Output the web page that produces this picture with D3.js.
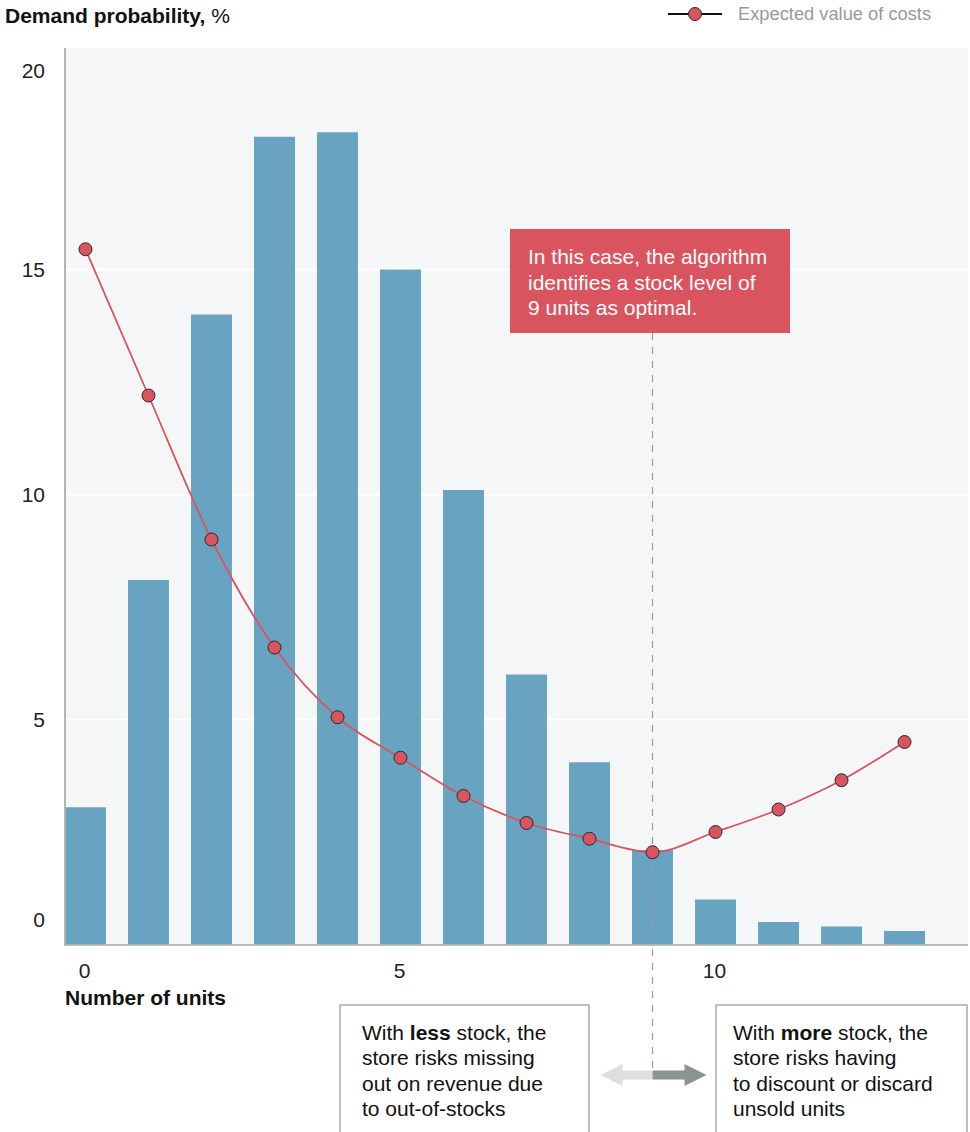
<!DOCTYPE html>
<html>
<head>
<meta charset="utf-8">
<script src="https://cdn.jsdelivr.net/npm/d3@7"></script>
<style>
  html, body { margin: 0; padding: 0; background: #ffffff; }
  svg { display: block; font-family: "Liberation Sans", Arial, Helvetica, sans-serif; }
</style>
</head>
<body>
<svg id="chart" width="970" height="1132"></svg>
<script>
// Units of stock held
const units = [0, 1, 2, 3, 4, 5, 6, 7, 8, 9, 10, 11, 12, 13];
// Probability of each demand level, %
const demandProbability = [3.05, 8.1, 14, 17.95, 18.05, 15, 10.1, 6, 4.05, 2.1, 1, 0.5, 0.4, 0.3];
// Expected value of costs for each stock level
const expectedCost = [15.45, 12.2, 9.0, 6.6, 5.05, 4.15, 3.3, 2.7, 2.35, 2.05, 2.5, 3.0, 3.65, 4.5];
const yTicks = [0, 5, 10, 15, 20];
const xTicks = [0, 5, 10];
const optimalUnits = 9;

const FONT = 21;
const svg = d3.select("#chart");

const plot = { left: 65, right: 968, top: 48, bottom: 945 };

const x = d3.scaleBand()
  .domain(units)
  .range([plot.left, 925])
  .paddingInner(0.35)
  .paddingOuter(0);

const y = d3.scaleLinear()
  .domain([0, 20])
  .range([944.5, 44.5]);

const cx = d => x(d) + x.bandwidth() / 2;

// Plot background
svg.append("rect")
  .attr("x", plot.left).attr("y", plot.top)
  .attr("width", plot.right - plot.left).attr("height", plot.bottom - plot.top)
  .attr("fill", "#f5f6f8");

// Horizontal gridlines
svg.append("g")
  .selectAll("line")
  .data(yTicks.filter(t => t > 0 && t < 20))
  .join("line")
  .attr("x1", plot.left).attr("x2", plot.right)
  .attr("y1", d => y(d)).attr("y2", d => y(d))
  .attr("stroke", "#ffffff").attr("stroke-width", 2);

// Y axis labels
const yAxis = svg.append("g")
  .attr("transform", `translate(${plot.left},0)`)
  .call(d3.axisLeft(y).tickValues(yTicks).tickSize(0).tickPadding(20));
yAxis.select(".domain").remove();
yAxis.selectAll("text")
  .attr("font-size", FONT)
  .attr("fill", "#222")
  .attr("font-family", "'Liberation Sans', Arial, sans-serif")
  .attr("dy", d => d === 20 ? "1.55em" : d === 0 ? "-0.85em" : "0.32em");

// Bars
svg.append("g")
  .selectAll("rect")
  .data(units)
  .join("rect")
  .attr("x", d => x(d))
  .attr("width", x.bandwidth())
  .attr("y", (d, i) => y(demandProbability[i]))
  .attr("height", (d, i) => y(0) - y(demandProbability[i]))
  .attr("fill", "#68a4c2");

// Left axis line
svg.append("line")
  .attr("x1", plot.left).attr("x2", plot.left)
  .attr("y1", plot.top).attr("y2", plot.bottom)
  .attr("stroke", "#b4b4b4").attr("stroke-width", 2);

// Bottom axis line
svg.append("line")
  .attr("x1", plot.left - 1).attr("x2", plot.right)
  .attr("y1", plot.bottom).attr("y2", plot.bottom)
  .attr("stroke", "#a8a8a8").attr("stroke-width", 1.5);

// X axis labels
const xAxis = svg.append("g")
  .attr("transform", `translate(-1,${plot.bottom})`)
  .call(d3.axisBottom(x).tickValues(xTicks).tickSize(0).tickPadding(18));
xAxis.select(".domain").remove();
xAxis.selectAll("text")
  .attr("font-size", FONT)
  .attr("fill", "#222")
  .attr("font-family", "'Liberation Sans', Arial, sans-serif");

// Axis titles
svg.append("text")
  .attr("x", plot.left).attr("y", 1005)
  .attr("font-size", FONT).attr("font-weight", "bold").attr("fill", "#111")
  .text("Number of units");

const title = svg.append("text")
  .attr("x", 5).attr("y", 23)
  .attr("font-size", FONT).attr("fill", "#111");
title.append("tspan").attr("font-weight", "bold").text("Demand probability,");
title.append("tspan").text(" %");

// Dashed marker at the optimal stock level
svg.append("line")
  .attr("x1", cx(optimalUnits)).attr("x2", cx(optimalUnits))
  .attr("y1", 333).attr("y2", 1075)
  .attr("stroke", "#9a9a9a").attr("stroke-width", 1.2)
  .attr("stroke-dasharray", "7,7");

// Expected cost curve
const line = d3.line()
  .x((d, i) => cx(units[i]))
  .y(d => y(d))
  .curve(d3.curveMonotoneX);

svg.append("path")
  .datum(expectedCost)
  .attr("d", line)
  .attr("fill", "none")
  .attr("stroke", "#d9545e")
  .attr("stroke-width", 1.8);

svg.append("g")
  .selectAll("circle")
  .data(expectedCost)
  .join("circle")
  .attr("cx", (d, i) => cx(units[i]))
  .attr("cy", d => y(d))
  .attr("r", 6.5)
  .attr("fill", "#d9545e")
  .attr("stroke", "#2a2a2a")
  .attr("stroke-width", 1);

// Callout box
svg.append("rect")
  .attr("x", 510).attr("y", 229).attr("width", 280).attr("height", 104)
  .attr("fill", "#d9545e");
const callout = svg.append("text")
  .attr("x", 528).attr("font-size", FONT).attr("fill", "#ffffff");
["In this case, the algorithm", "identifies a stock level of", "9 units as optimal."]
  .forEach((t, i) => callout.append("tspan").attr("x", 528).attr("y", 264 + i * 25.5).text(t));

// Legend
svg.append("line")
  .attr("x1", 668).attr("x2", 722).attr("y1", 14).attr("y2", 14)
  .attr("stroke", "#111").attr("stroke-width", 2);
svg.append("circle")
  .attr("cx", 695).attr("cy", 14).attr("r", 6.5)
  .attr("fill", "#d9545e").attr("stroke", "#2a2a2a").attr("stroke-width", 1);
svg.append("text")
  .attr("x", 738).attr("y", 20)
  .attr("font-size", 18.3).attr("fill", "#9a9a9a")
  .text("Expected value of costs");

// Double arrow under the marker
const ax = cx(optimalUnits), ay = 1075;
svg.append("path")
  .attr("d", `M${ax},${ay - 4.5} L${ax - 30},${ay - 4.5} L${ax - 30},${ay - 11} L${ax - 52},${ay} L${ax - 30},${ay + 11} L${ax - 30},${ay + 4.5} L${ax},${ay + 4.5} Z`)
  .attr("fill", "#dcdfdd");
svg.append("path")
  .attr("d", `M${ax},${ay - 4.5} L${ax + 32},${ay - 4.5} L${ax + 32},${ay - 11} L${ax + 54},${ay} L${ax + 32},${ay + 11} L${ax + 32},${ay + 4.5} L${ax},${ay + 4.5} Z`)
  .attr("fill", "#8b948f");

// Explanation boxes
function infoBox(x0, x1, textX, lines) {
  svg.append("path")
    .attr("d", `M${x0},1140 L${x0},1005 L${x1},1005 L${x1},1140`)
    .attr("fill", "#ffffff").attr("stroke", "#aaaaaa").attr("stroke-width", 1.5);
  const t = svg.append("text").attr("font-size", FONT).attr("fill", "#111");
  lines.forEach((parts, i) => {
    const row = t.append("tspan").attr("x", textX).attr("y", 1040 + i * 25.3);
    parts.forEach(p => {
      const s = row.append("tspan").text(p.text);
      if (p.bold) s.attr("font-weight", "bold");
    });
  });
}

infoBox(340, 589, 362, [
  [{ text: "With " }, { text: "less", bold: true }, { text: " stock, the" }],
  [{ text: "store risks missing" }],
  [{ text: "out on revenue due" }],
  [{ text: "to out-of-stocks" }]
]);
infoBox(716, 967, 733, [
  [{ text: "With " }, { text: "more", bold: true }, { text: " stock, the" }],
  [{ text: "store risks having" }],
  [{ text: "to discount or discard" }],
  [{ text: "unsold units" }]
]);
</script>
</body>
</html>
